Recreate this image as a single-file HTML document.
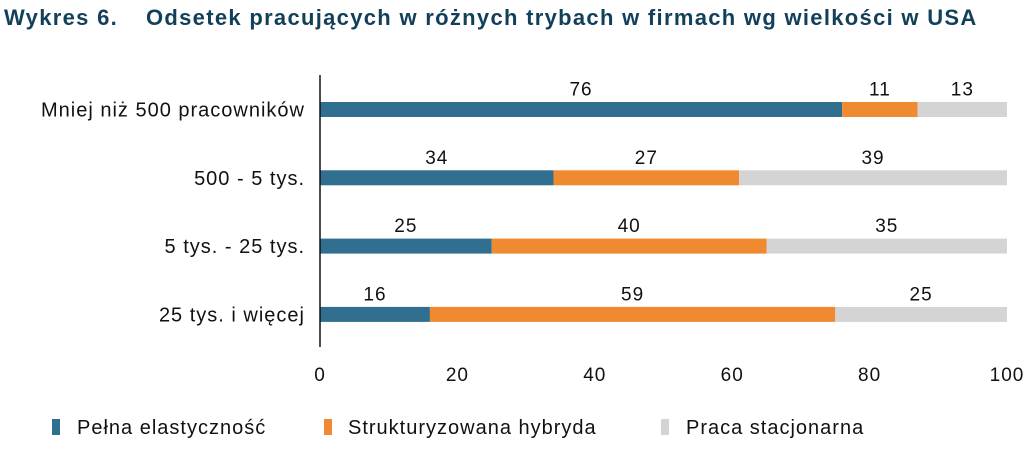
<!DOCTYPE html>
<html><head><meta charset="utf-8"><style>
body{margin:0;background:#fff;width:1024px;height:447px;overflow:hidden;font-family:"Liberation Sans",sans-serif}
</style></head><body>
<svg id="chart" width="1024" height="447" xmlns="http://www.w3.org/2000/svg" font-family="Liberation Sans, sans-serif">
<text x="4" y="25" font-size="22" font-weight="bold" fill="#123f5a" letter-spacing="1.3">Wykres 6.<tspan x="146">Odsetek pracujących w różnych trybach w firmach wg wielkości w USA</tspan></text>
<g id="plot"></g>
<g font-size="20" letter-spacing="1">
<rect x="52" y="419" width="8" height="16" fill="#306f90"/>
<text x="77" y="434" fill="#111">Pełna elastyczność</text>
<rect x="324" y="419" width="8" height="16" fill="#f08a30"/>
<text x="348" y="434" fill="#111">Strukturyzowana hybryda</text>
<rect x="661" y="419" width="8" height="16" fill="#d4d4d4"/>
<text x="686" y="434" fill="#111">Praca stacjonarna</text>
</g>
</svg>
<script>
const categories=["Mniej niż 500 pracowników","500 - 5 tys.","5 tys. - 25 tys.","25 tys. i więcej"];
const fullFlex=[76,34,25,16];
const hybrid=[11,27,40,59];
const office=[13,39,35,25];
const xTicks=[0,20,40,60,80,100];
const NS="http://www.w3.org/2000/svg";
const g=document.getElementById('plot');
const x0=320,x1=1007;
const xs=v=>x0+(x1-x0)*v/100;
const rowY=i=>109.5+i*68.3;
const bh=15;
function mk(t,a){const e=document.createElementNS(NS,t);for(const k in a)e.setAttribute(k,a[k]);g.appendChild(e);return e;}
const series=[[fullFlex,"#306f90","full-flex"],[hybrid,"#f08a30","hybrid"],[office,"#d4d4d4","office"]];
categories.forEach((c,i)=>{
  const y=rowY(i);
  const lab=mk('text',{x:305,y:y+7,'font-size':20,'letter-spacing':1,'text-anchor':'end',fill:'#111'});
  lab.textContent=c;
  
  
  let acc=0;
  series.forEach(([arr,col,nm])=>{
    const v=arr[i];
    const r=mk('rect',{x:xs(acc),y:y-bh/2,width:xs(acc+v)-xs(acc),height:bh,fill:col});
    
    
    const t=mk('text',{x:(xs(acc)+xs(acc+v))/2,y:y-14,'font-size':19,'letter-spacing':1,'text-anchor':'middle',fill:'#111'});
    t.textContent=v;
    
    
    acc+=v;
  });
});
const ax=mk('line',{x1:x0,y1:75,x2:x0,y2:347,stroke:'#111','stroke-width':1.5});


xTicks.forEach(v=>{
  const t=mk('text',{x:xs(v),y:381,'font-size':19,'letter-spacing':1,'text-anchor':'middle',fill:'#111'});
  t.textContent=v;
  
  
});
</script>
</body></html>
